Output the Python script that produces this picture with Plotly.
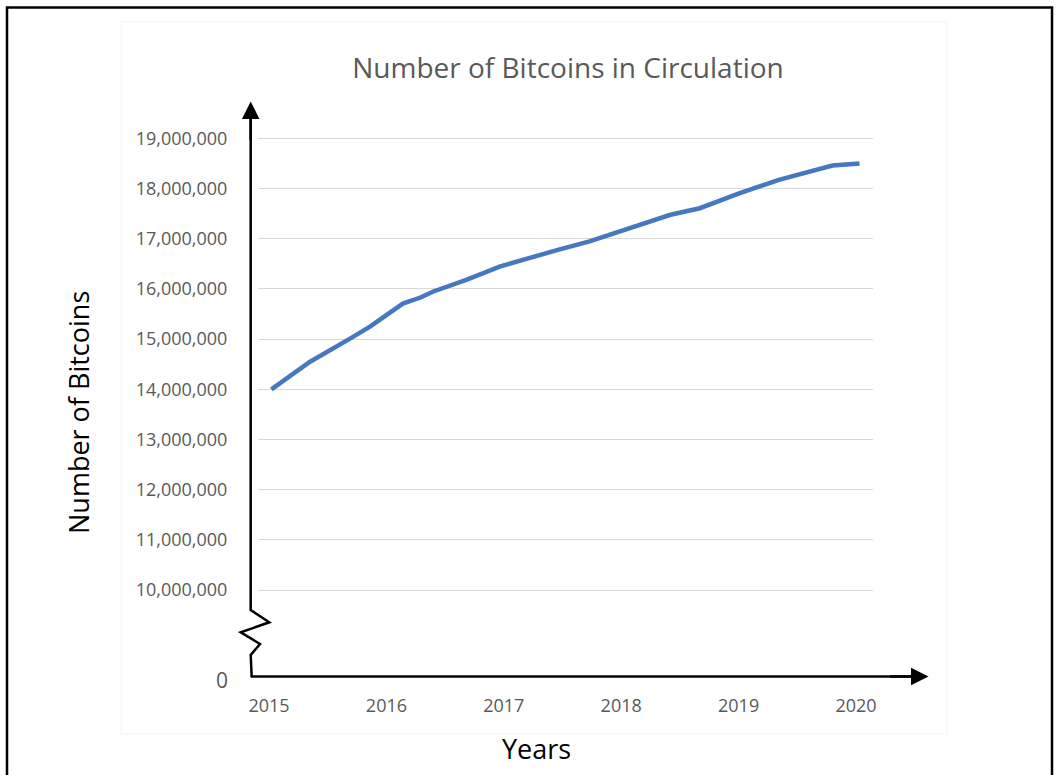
import plotly.graph_objects as go

# ---- data ----
years = [2015.02, 2015.35, 2015.69, 2015.86, 2016.14, 2016.29, 2016.40, 2016.68,
         2016.97, 2017.25, 2017.46, 2017.73, 2018.08, 2018.42, 2018.67, 2019.01,
         2019.35, 2019.69, 2019.80, 2020.03]
bitcoins = [14_000_000, 14_550_000, 15_010_000, 15_250_000, 15_710_000, 15_830_000,
            15_950_000, 16_180_000, 16_450_000, 16_650_000, 16_780_000, 16_950_000,
            17_210_000, 17_480_000, 17_610_000, 17_910_000, 18_180_000, 18_380_000,
            18_460_000, 18_500_000]
x_ticks = [2015, 2016, 2017, 2018, 2019, 2020]
y_ticks = [10_000_000, 11_000_000, 12_000_000, 13_000_000, 14_000_000, 15_000_000,
           16_000_000, 17_000_000, 18_000_000, 19_000_000]

W, H = 1056, 775
def px(x): return x / W
def py(y): return 1 - y / H

GRAY = "#595959"
FONT = "Open Sans"

fig = go.Figure()
fig.add_trace(go.Scatter(x=years, y=bitcoins, mode="lines",
                         line=dict(color="#4677C1", width=4.5), showlegend=False,
                         hoverinfo="x+y"))

fig.update_layout(
    width=W, height=H, autosize=False,
    margin=dict(l=0, r=0, t=0, b=0, pad=0),
    paper_bgcolor="white", plot_bgcolor="white",
    title=dict(text="Number of Bitcoins in Circulation", x=px(568), y=py(68),
               xanchor="center", yanchor="middle",
               font=dict(family=FONT, size=28, color=GRAY)),
    xaxis=dict(domain=[px(258), px(873)], range=[2014.906, 2020.145],
               tickvals=x_ticks, ticktext=[str(v) for v in x_ticks],
               showgrid=False, zeroline=False, showline=False, automargin=False,
               ticks="outside", ticklen=12, tickcolor="rgba(0,0,0,0)",
               tickfont=dict(family=FONT, size=18, color=GRAY)),
    yaxis=dict(domain=[py(677), py(100)], range=[8_266_000, 19_767_000],
               tickvals=y_ticks, tickformat=",d", automargin=False,
               showgrid=True, gridcolor="#d9d9d9", gridwidth=1,
               zeroline=False, showline=False,
               ticks="outside", ticklen=26, tickcolor="rgba(0,0,0,0)",
               tickfont=dict(family=FONT, size=18, color=GRAY)),
)

shapes = []
# outer frame
shapes.append(dict(type="path", xref="paper", yref="paper",
                   path=f"M {px(7)},{py(790)} L {px(7)},{py(7.5)} L {px(1052)},{py(7.5)} L {px(1052)},{py(790)}",
                   line=dict(color="black", width=2.5)))
# faint chart-area border
shapes.append(dict(type="rect", xref="paper", yref="paper",
                   x0=px(121), x1=px(947), y0=py(734), y1=py(22),
                   line=dict(color="#f4f4f4", width=1), layer="below"))
# y axis with break zigzag
pts = [(250.7, 112), (250.7, 605), (250.7, 610), (269.3, 622.3), (240.7, 632.3),
       (260, 644), (250.7, 655), (251.7, 677)]
path = "M " + " L ".join(f"{px(a)},{py(b)}" for a, b in pts)
shapes.append(dict(type="path", xref="paper", yref="paper", path=path,
                   line=dict(color="black", width=2.5)))
# x axis line
shapes.append(dict(type="line", xref="paper", yref="paper",
                   x0=px(250.7), x1=px(916), y0=py(676.5), y1=py(676.5),
                   line=dict(color="black", width=2.5)))
fig.update_layout(shapes=shapes)

# arrowheads
fig.add_annotation(xref="paper", yref="paper", x=px(250.7), y=py(101.5), text="",
                   showarrow=True, ax=0, ay=40, arrowhead=2, arrowsize=1.4,
                   arrowwidth=2.5, arrowcolor="black", standoff=0)
fig.add_annotation(xref="paper", yref="paper", x=px(928.5), y=py(676.5), text="",
                   showarrow=True, ax=-40, ay=0, arrowhead=2, arrowsize=1.4,
                   arrowwidth=2.5, arrowcolor="black", standoff=0)

# "0" label at bottom of broken axis
fig.add_annotation(xref="paper", yref="paper", x=px(222), y=py(680), text="0",
                   showarrow=False, xanchor="center", yanchor="middle",
                   font=dict(family=FONT, size=21, color=GRAY))
# axis titles
fig.add_annotation(xref="paper", yref="paper", x=px(78), y=py(413),
                   text="Number of Bitcoins", textangle=-90, showarrow=False,
                   xanchor="center", yanchor="middle",
                   font=dict(family=FONT, size=27, color="black"))
fig.add_annotation(xref="paper", yref="paper", x=px(536), y=py(748),
                   text="Years", showarrow=False, xanchor="center", yanchor="middle",
                   font=dict(family=FONT, size=27, color="black"))

fig.write_html("out.html")
